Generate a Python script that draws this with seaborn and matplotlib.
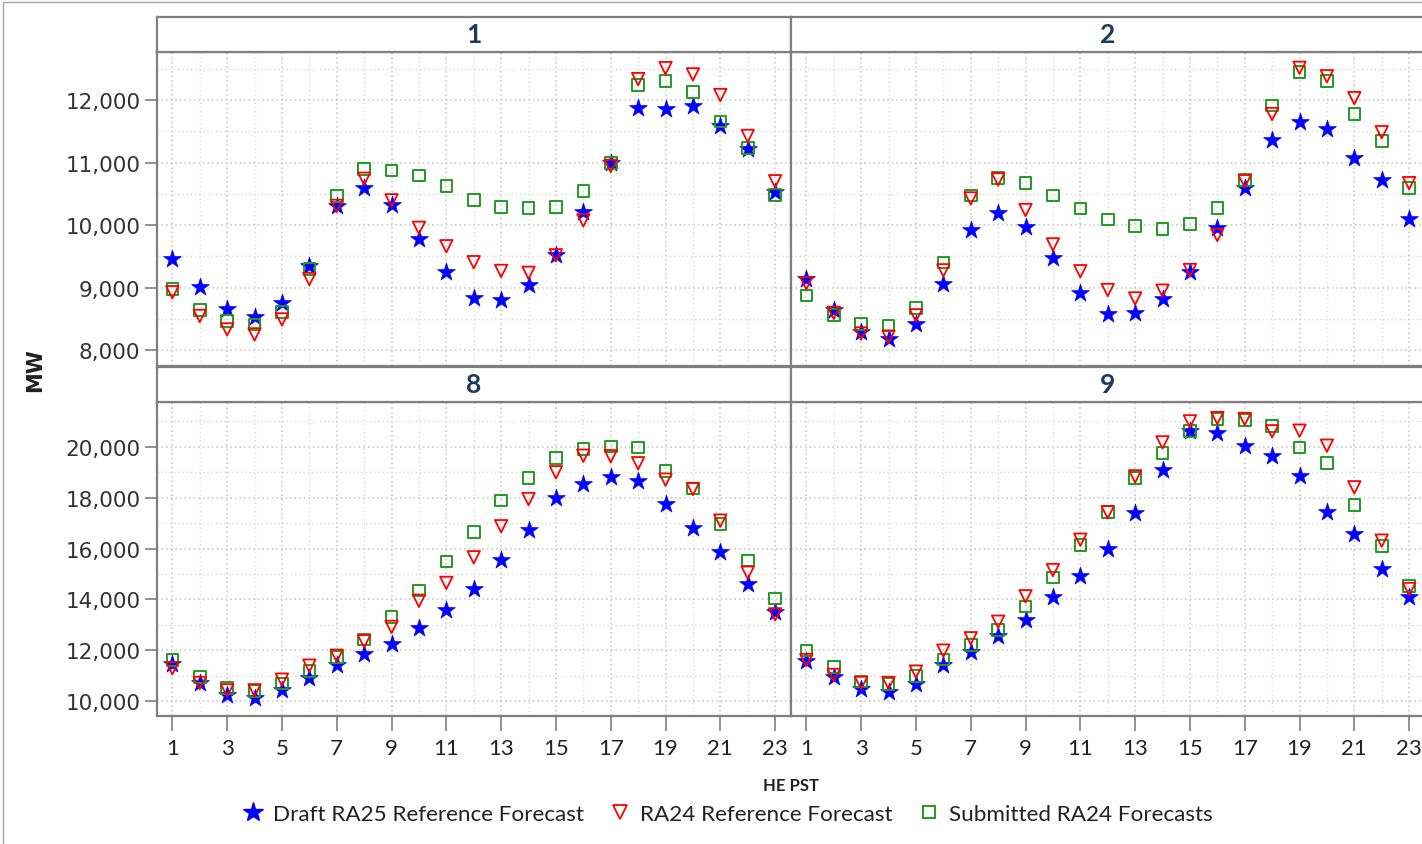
import pandas as pd
import matplotlib.pyplot as plt
import seaborn as sns
from matplotlib.ticker import MultipleLocator, FuncFormatter
from matplotlib.lines import Line2D
from matplotlib.patches import Rectangle

# data (MW by hour ending, PST)
hours = list(range(1, 24))
months = [1, 2, 8, 9]
series_names = ['Draft RA25 Reference Forecast', 'RA24 Reference Forecast', 'Submitted RA24 Forecasts']

ra25_m1 = [9460, 9015, 8660, 8530, 8755, 9340, 10305, 10590, 10325, 9770, 9250, 8825,
           8805, 9045, 9520, 10215, 10990, 11870, 11860, 11900, 11590, 11215, 10525]
ra24_m1 = [8925, 8545, 8330, 8250, 8490, 9135, 10305, 10740, 10395, 9955, 9660, 9405,
           9265, 9235, 9515, 10075, 10945, 12335, 12510, 12410, 12080, 11425, 10700]
sub24_m1 = [8980, 8645, 8460, 8410, 8605, 9295, 10465, 10900, 10870, 10790, 10620, 10400,
            10285, 10270, 10290, 10545, 10995, 12240, 12300, 12125, 11655, 11235, 10480]

ra25_m2 = [9135, 8635, 8285, 8170, 8410, 9055, 9925, 10190, 9965, 9480, 8910, 8580,
           8590, 8810, 9255, 9950, 10600, 11355, 11645, 11535, 11080, 10720, 10090]
ra24_m2 = [9070, 8595, 8265, 8215, 8555, 9275, 10425, 10730, 10240, 9690, 9260, 8960,
           8825, 8950, 9280, 9840, 10700, 11775, 12515, 12380, 12030, 11485, 10670]
sub24_m2 = [8875, 8560, 8415, 8395, 8670, 9400, 10470, 10750, 10670, 10475, 10265, 10090,
            9980, 9935, 10015, 10270, 10720, 11915, 12445, 12300, 11775, 11340, 10590]

ra25_m8 = [11460, 10720, 10260, 10130, 10445, 10900, 11440, 11860, 12250, 12870, 13590, 14410,
           15560, 16740, 17970, 18535, 18800, 18650, 17740, 16795, 15875, 14605, 13495]
ra24_m8 = [11300, 10720, 10430, 10430, 10850, 11400, 11790, 12355, 12920, 13950, 14650, 15655,
           16875, 17945, 18995, 19645, 19625, 19350, 18705, 18340, 17095, 15050, 13415]
sub24_m8 = [11620, 10965, 10510, 10415, 10705, 11200, 11730, 12420, 13300, 14345, 15485, 16660,
            17880, 18760, 19545, 19910, 20015, 19975, 19035, 18365, 16965, 15525, 14045]

ra25_m9 = [11595, 10945, 10485, 10355, 10680, 11440, 11950, 12555, 13205, 14085, 14935, 16000,
           17385, 19095, 20605, 20525, 20040, 19645, 18860, 17425, 16570, 15195, 14085]
ra24_m9 = [11620, 11035, 10720, 10720, 11165, 11990, 12475, 13125, 14125, 15155, 16345, 17425,
           18835, 20170, 20995, 21125, 21090, 20605, 20630, 20040, 18405, 16310, 14410]
sub24_m9 = [11990, 11335, 10770, 10680, 11005, 11635, 12210, 12810, 13730, 14855, 16140, 17425,
            18770, 19755, 20605, 21090, 21050, 20825, 19975, 19360, 17710, 16110, 14540]

values = {
    1: [ra25_m1, ra24_m1, sub24_m1],
    2: [ra25_m2, ra24_m2, sub24_m2],
    8: [ra25_m8, ra24_m8, sub24_m8],
    9: [ra25_m9, ra24_m9, sub24_m9],
}

rows = []
for m in months:
    for name, vals in zip(series_names, values[m]):
        for h, v in zip(hours, vals):
            rows.append({'month': m, 'hour': h, 'series': name, 'MW': v})
df = pd.DataFrame(rows)

sns.set_style('white')
plt.rcParams['font.family'] = ['DejaVu Sans']

W, H = 1422, 845
fig = plt.figure(figsize=(W / 100, H / 100), dpi=100)

def fx(px):
    return px / W

def fy(px):
    return 1 - px / H

grey = '#7f7f7f'
navy = '#1f3a60'
calibri = ['Lato', 'DejaVu Sans']

# panel geometry in pixels: (left, right) and (top of plot, bottom of plot, top of strip)
col_x = [(157, 791), (791, 1425)]
row_y = [(52.7, 366.7, 18), (403, 716.7, 367.5)]
ylims = [(7749, 12773), (9434, 21756)]
ymajor = [1000, 2000]

# one style per entry of series_names
styles = [
    dict(marker='*', s=180, color='#0000ff', edgecolor='#0000ff', linewidth=0.5, zorder=3),
    dict(marker='v', s=80, color='#ff0000', facecolor='none', edgecolor='#ff0000', linewidth=1.3, zorder=5),
    dict(marker='s', s=70, color='#229922', facecolor='none', edgecolor='#229922', linewidth=1.4, zorder=4),
]
draw_order = [0, 2, 1]

for i, m in enumerate(months):
    r, c = divmod(i, 2)
    l, rgt = col_x[c]
    top, bot, stop = row_y[r]
    ax = fig.add_axes([fx(l), fy(bot), fx(rgt - l), (bot - top) / H])
    sub = df[df['month'] == m]
    for k in draw_order:
        sns.scatterplot(data=sub[sub['series'] == series_names[k]], x='hour', y='MW',
                        ax=ax, legend=False, **styles[k])
    ax.set_xlim(0.44, 23.58)
    ax.set_ylim(*ylims[r])
    ax.xaxis.set_major_locator(MultipleLocator(2, offset=1))
    ax.xaxis.set_minor_locator(MultipleLocator(1))
    ax.yaxis.set_major_locator(MultipleLocator(ymajor[r]))
    ax.yaxis.set_minor_locator(MultipleLocator(ymajor[r] / 2))
    ax.yaxis.set_major_formatter(FuncFormatter(lambda v, p: f'{v:,.0f}'))
    ax.grid(True, which='major', color='#c4c4c4', linestyle=(0, (1, 2)), linewidth=1.1)
    ax.grid(True, which='minor', color='#dadada', linestyle=(0, (1, 2)), linewidth=1.0)
    ax.set_axisbelow(True)
    ax.set_xlabel('')
    ax.set_ylabel('')
    for sp in ax.spines.values():
        sp.set_color(grey)
        sp.set_linewidth(1.6)
    ax.tick_params(which='minor', length=0)
    ax.tick_params(axis='x', which='major', direction='out', length=11, width=1.2, color=grey,
                   pad=5, labelsize=16, labelcolor='#222222', bottom=(r == 1), labelbottom=(r == 1))
    ax.tick_params(axis='y', which='major', direction='out', length=9, width=1.2, color=grey,
                   pad=3, labelsize=15.5, labelcolor='#333333', left=(c == 0), labelleft=(c == 0))
    for lab in ax.get_xticklabels():
        lab.set_family(calibri)

    # facet strip
    sax = fig.add_axes([fx(l), fy(top), fx(rgt - l), (top - stop) / H])
    sax.set_xticks([])
    sax.set_yticks([])
    sax.set_facecolor('white')
    for sp in sax.spines.values():
        sp.set_color(grey)
        sp.set_linewidth(1.6)
    sax.text(0.5, 0.5, str(m), ha='center', va='center', fontsize=19, fontweight='bold',
             color=navy, family=calibri, transform=sax.transAxes)

fig.text(fx(35), fy(370), 'MW', rotation=90, ha='center', va='center', fontsize=15,
         fontweight='bold', family=['Liberation Sans Narrow', 'DejaVu Sans'], color='#222222')
fig.text(fx(791), fy(786), 'HE PST', ha='center', va='center', fontsize=12,
         fontweight='bold', family=calibri, color='#222222')

handles = [
    Line2D([], [], marker='*', linestyle='none', color='#0000ff', markersize=15),
    Line2D([], [], marker='v', linestyle='none', markerfacecolor='none', markeredgecolor='#ff0000',
           markersize=10, markeredgewidth=1.3),
    Line2D([], [], marker='s', linestyle='none', markerfacecolor='none', markeredgecolor='#229922',
           markersize=9, markeredgewidth=1.4),
]
fig.legend(handles, series_names, loc='center', bbox_to_anchor=(fx(724), fy(815)), ncol=3,
           frameon=False, prop={'family': calibri, 'size': 16.2}, handletextpad=0.1,
           handlelength=1.6, columnspacing=0.8, labelcolor='#222222')

fig.patches.append(Rectangle((fx(3), -0.1), 1.2, fy(3) + 0.1, transform=fig.transFigure,
                             fill=False, edgecolor='#a8a8a8', linewidth=1.0))

fig.savefig('out.png', dpi=100)
